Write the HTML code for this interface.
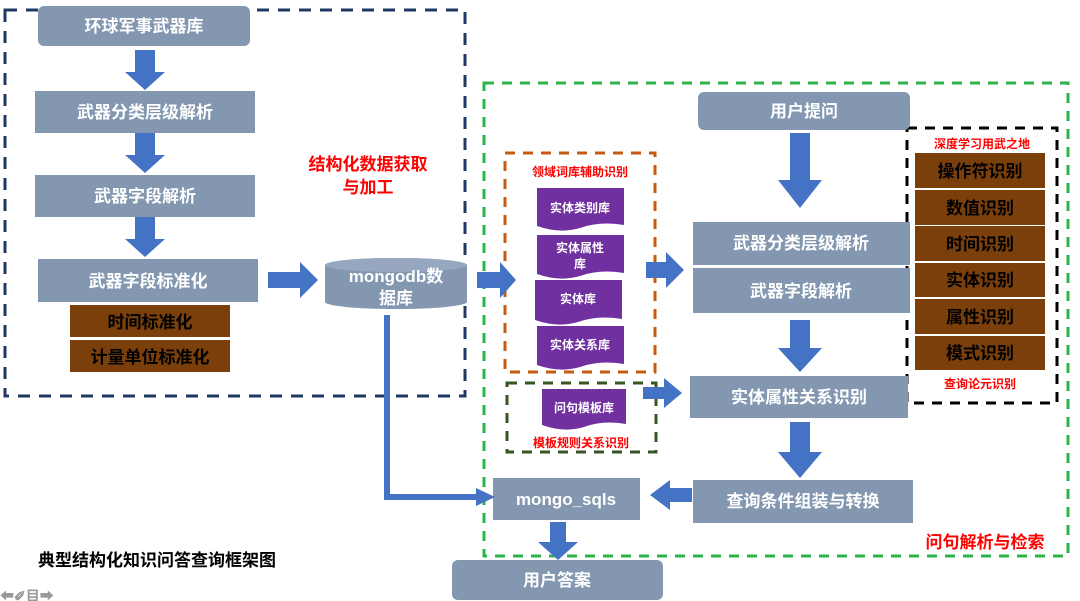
<!DOCTYPE html>
<html><head><meta charset="utf-8"><style>
body{margin:0;background:#fff}
svg{display:block}
text{font-family:"Liberation Sans","Noto Sans CJK SC",sans-serif;font-weight:bold}
</style></head><body>
<svg width="1080" height="601" viewBox="0 0 1080 601" xmlns="http://www.w3.org/2000/svg">
<defs>
<g id="ad"><polygon points="-10,0 10,0 10,22 20,22 0,40 -20,22 -10,22" fill="#4472c4"/></g>
</defs>
<!-- left dashed box -->
<rect x="5" y="10" width="460" height="386" fill="none" stroke="#1f3864" stroke-width="3" stroke-dasharray="12,9"/>
<!-- green dashed -->
<rect x="484" y="83" width="584" height="473" fill="none" stroke="#2db34a" stroke-width="3" stroke-dasharray="10,8"/>
<!-- orange dashed -->
<rect x="505" y="153" width="150" height="219" fill="none" stroke="#c55a11" stroke-width="3" stroke-dasharray="10,8"/>
<!-- dark green dashed -->
<rect x="507" y="383" width="149" height="69" fill="none" stroke="#375623" stroke-width="3" stroke-dasharray="10,8"/>
<!-- black dashed -->
<rect x="907" y="128" width="150" height="275" fill="none" stroke="#000" stroke-width="3" stroke-dasharray="10,8"/>

<g fill="#8497b0">
<rect x="38" y="6" width="212" height="40" rx="6"/>
<rect x="35" y="91" width="220" height="42"/>
<rect x="35" y="175" width="220" height="42"/>
<rect x="38" y="259" width="220" height="43"/>
<rect x="698" y="92" width="212" height="38" rx="6"/>
<rect x="693" y="222" width="217" height="43"/>
<rect x="693" y="268" width="217" height="45"/>
<rect x="690" y="376" width="218" height="42"/>
<rect x="693" y="480" width="220" height="43"/>
<rect x="493" y="478" width="147" height="42"/>
<rect x="452" y="560" width="211" height="40" rx="6"/>
</g>
<g fill="#7b3f0c">
<rect x="70" y="305" width="160" height="32"/>
<rect x="70" y="340" width="160" height="32"/>
<rect x="915" y="153" width="130" height="35"/>
<rect x="915" y="190" width="130" height="35"/>
<rect x="915" y="226" width="130" height="35"/>
<rect x="915" y="263" width="130" height="34"/>
<rect x="915" y="299" width="130" height="35"/>
<rect x="915" y="336" width="130" height="34"/>
</g>
<!-- cylinder -->
<path d="M325,265 A71,7 0 0 1 467,265 L467,302 A71,7 0 0 1 325,302 Z" fill="#8497b0"/>
<ellipse cx="396" cy="265" rx="71" ry="7" fill="#96a7bf"/>
<!-- purple docs -->
<g fill="#7030a0">
<path d="M537,188 H624 V225 Q600,221 580,228 Q560,234 537,226 Z"/>
<path d="M537,235 H624 V273 Q600,269 580,276 Q560,282 537,274 Z"/>
<path d="M535,280 H622 V319 Q598,315 578,322 Q558,328 535,320 Z"/>
<path d="M537,326 H624 V364 Q600,360 580,367 Q560,373 537,365 Z"/>
<path d="M542,389 H626 V424 Q603,420 584,427 Q564,433 542,425 Z"/>
</g>
<!-- arrows down -->
<use href="#ad" x="145" y="50"/>
<use href="#ad" x="145" y="133"/>
<use href="#ad" x="145" y="217"/>
<polygon points="790,133 810,133 810,180 822,180 800,208 778,180 790,180" fill="#4472c4"/>
<polygon points="790,320 810,320 810,348 822,348 800,372 778,348 790,348" fill="#4472c4"/>
<polygon points="790,422 810,422 810,452 822,452 800,478 778,452 790,452" fill="#4472c4"/>
<polygon points="550,522 566,522 566,542 578,542 558,560 538,542 550,542" fill="#4472c4"/>
<!-- arrows right -->
<polygon points="268,272 300,272 300,262 318,280 300,298 300,288 268,288" fill="#4472c4"/>
<polygon points="477,272 500,272 500,262 516,280 500,298 500,288 477,288" fill="#4472c4"/>
<polygon points="646,262 666,262 666,252 684,270 666,288 666,278 646,278" fill="#4472c4"/>
<polygon points="643,387 664,387 664,378 682,393 664,408 664,399 643,399" fill="#4472c4"/>
<polygon points="692,488 670,488 670,480 650,495 670,510 670,502 692,502" fill="#4472c4"/>
<!-- connector -->
<polyline points="387,315 387,497 480,497" fill="none" stroke="#4472c4" stroke-width="6"/>
<polygon points="476,488 495,497 476,506" fill="#4472c4"/>

<g fill="#fff" font-size="17" text-anchor="middle">
<text x="144" y="32">环球军事武器库</text>
<text x="145" y="118">武器分类层级解析</text>
<text x="145" y="202">武器字段解析</text>
<text x="148" y="287">武器字段标准化</text>
<text x="804" y="117">用户提问</text>
<text x="801" y="249">武器分类层级解析</text>
<text x="801" y="297">武器字段解析</text>
<text x="799" y="403">实体属性关系识别</text>
<text x="803" y="507">查询条件组装与转换</text>
<text x="566" y="505">mongo_sqls</text>
<text x="557" y="586">用户答案</text>
<text x="396" y="282">mongodb数</text>
<text x="396" y="304">据库</text>
</g>
<g fill="#fff" font-size="12" text-anchor="middle">
<text x="580" y="212">实体类别库</text>
<text x="580" y="252">实体属性</text>
<text x="580" y="268">库</text>
<text x="578" y="303">实体库</text>
<text x="580" y="349">实体关系库</text>
<text x="584" y="412">问句模板库</text>
</g>
<g fill="#000" font-size="17" text-anchor="middle">
<text x="150" y="328">时间标准化</text>
<text x="150" y="363">计量单位标准化</text>
<text x="980" y="177">操作符识别</text>
<text x="980" y="214">数值识别</text>
<text x="980" y="250">时间识别</text>
<text x="980" y="286">实体识别</text>
<text x="980" y="323">属性识别</text>
<text x="980" y="359">模式识别</text>
</g>
<g fill="#ff0000" text-anchor="middle">
<text x="368" y="170" font-size="17">结构化数据获取</text>
<text x="368" y="193" font-size="17">与加工</text>
<text x="580" y="176" font-size="12">领域词库辅助识别</text>
<text x="581" y="447" font-size="12">模板规则关系识别</text>
<text x="982" y="148" font-size="12">深度学习用武之地</text>
<text x="980" y="388" font-size="12">查询论元识别</text>
<text x="985" y="548" font-size="17">问句解析与检索</text>
</g>
<text x="38" y="566" font-size="17" fill="#000">典型结构化知识问答查询框架图</text>
<text x="0" y="601" font-size="14" fill="#999">⬅✐目➡</text>
</svg>
</body></html>
